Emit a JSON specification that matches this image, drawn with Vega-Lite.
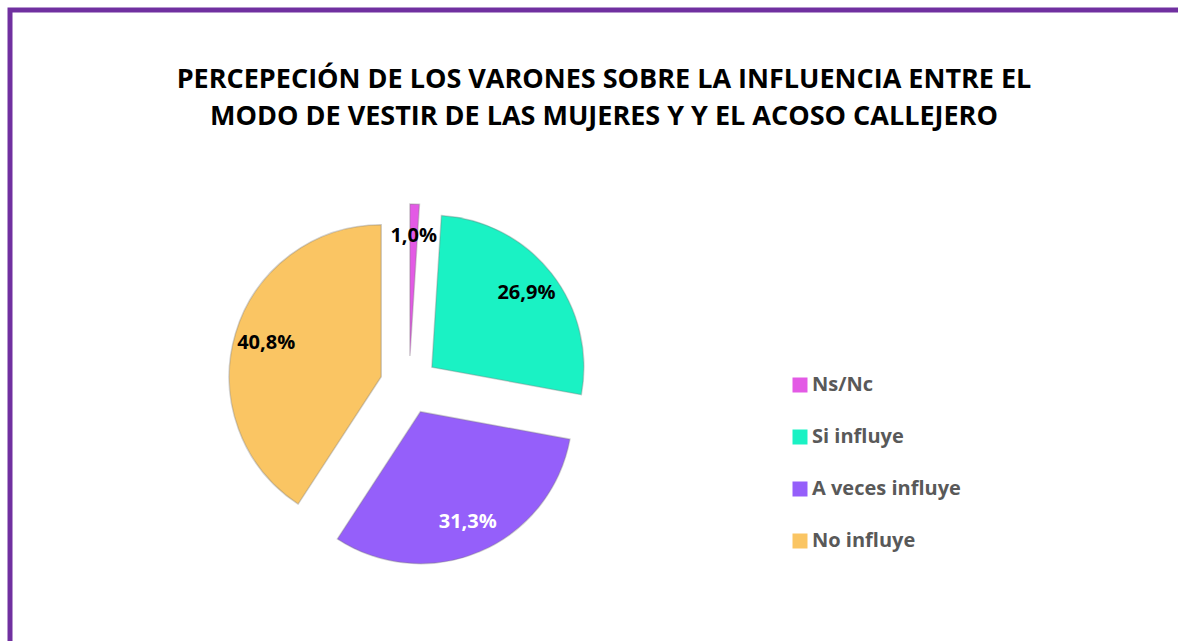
{
  "$schema": "https://vega.github.io/schema/vega-lite/v6.json",
  "width": 1178,
  "height": 641,
  "autosize": "none",
  "padding": {"left": 10, "top": 10, "right": 0, "bottom": 0},
  "background": "white",
  "config": {
    "view": {"stroke": "#7030a0", "strokeWidth": 5},
    "locale": {"number": {"decimal": ",", "thousands": ".", "grouping": [3], "currency": ["", " €"]}}
  },
  "title": {
    "text": ["PERCEPECIÓN DE LOS VARONES SOBRE LA INFLUENCIA ENTRE EL", "MODO DE VESTIR DE LAS MUJERES Y Y EL ACOSO CALLEJERO"],
    "anchor": "middle",
    "frame": "group",
    "font": "Open Sans",
    "fontSize": 27,
    "fontWeight": "bold",
    "color": "#000000",
    "lineHeight": 37,
    "baseline": "alphabetic",
    "offset": 0,
    "dx": 5,
    "dy": 142
  },
  "data": {
    "values": [
      {"cat": "Ns/Nc", "pct": 0.010, "ord": 1},
      {"cat": "Si influye", "pct": 0.269, "ord": 2},
      {"cat": "A veces influye", "pct": 0.313, "ord": 3},
      {"cat": "No influye", "pct": 0.408, "ord": 4}
    ]
  },
  "layer": [
    {
      "mark": {
        "type": "arc",
        "outerRadius": 152,
        "stroke": "#7a7a7a",
        "strokeOpacity": 0.35,
        "strokeWidth": 1.5,
        "xOffset": {"expr": "29*sin(PI*(datum.pct_start+datum.pct_end))"},
        "yOffset": {"expr": "-29*cos(PI*(datum.pct_start+datum.pct_end))"}
      },
      "encoding": {
        "x": {"value": 399},
        "y": {"value": 375},
        "theta": {"field": "pct", "type": "quantitative", "stack": true},
        "order": {"field": "ord", "type": "quantitative"},
        "color": {
          "field": "cat",
          "type": "nominal",
          "sort": ["Ns/Nc", "Si influye", "A veces influye", "No influye"],
          "scale": {
            "domain": ["Ns/Nc", "Si influye", "A veces influye", "No influye"],
            "range": ["#e35ae5", "#1af2c4", "#955ffa", "#fac563"]
          },
          "legend": {
            "title": null,
            "orient": "none",
            "legendX": 780,
            "legendY": 365,
            "symbolType": "square",
            "symbolSize": 225,
            "symbolStrokeWidth": 0,
            "labelFont": "Open Sans",
            "labelFontSize": 20,
            "labelFontWeight": "bold",
            "labelColor": "#595959",
            "labelOffset": 2,
            "rowPadding": 32,
            "labelLimit": 300
          }
        }
      }
    },
    {
      "mark": {
        "type": "text",
        "radius": 120,
        "font": "Open Sans",
        "fontSize": 20,
        "fontWeight": "bold",
        "xOffset": {"expr": "29*sin(PI*(datum.pct_start+datum.pct_end))"},
        "yOffset": {"expr": "-29*cos(PI*(datum.pct_start+datum.pct_end))"}
      },
      "encoding": {
        "x": {"value": 399},
        "y": {"value": 375},
        "theta": {"field": "pct", "type": "quantitative", "stack": true},
        "order": {"field": "ord", "type": "quantitative"},
        "text": {"field": "pct", "type": "quantitative", "format": ".1%"},
        "color": {
          "condition": {"test": "datum.cat == 'A veces influye'", "value": "#ffffff"},
          "value": "#000000"
        }
      }
    }
  ]
}
